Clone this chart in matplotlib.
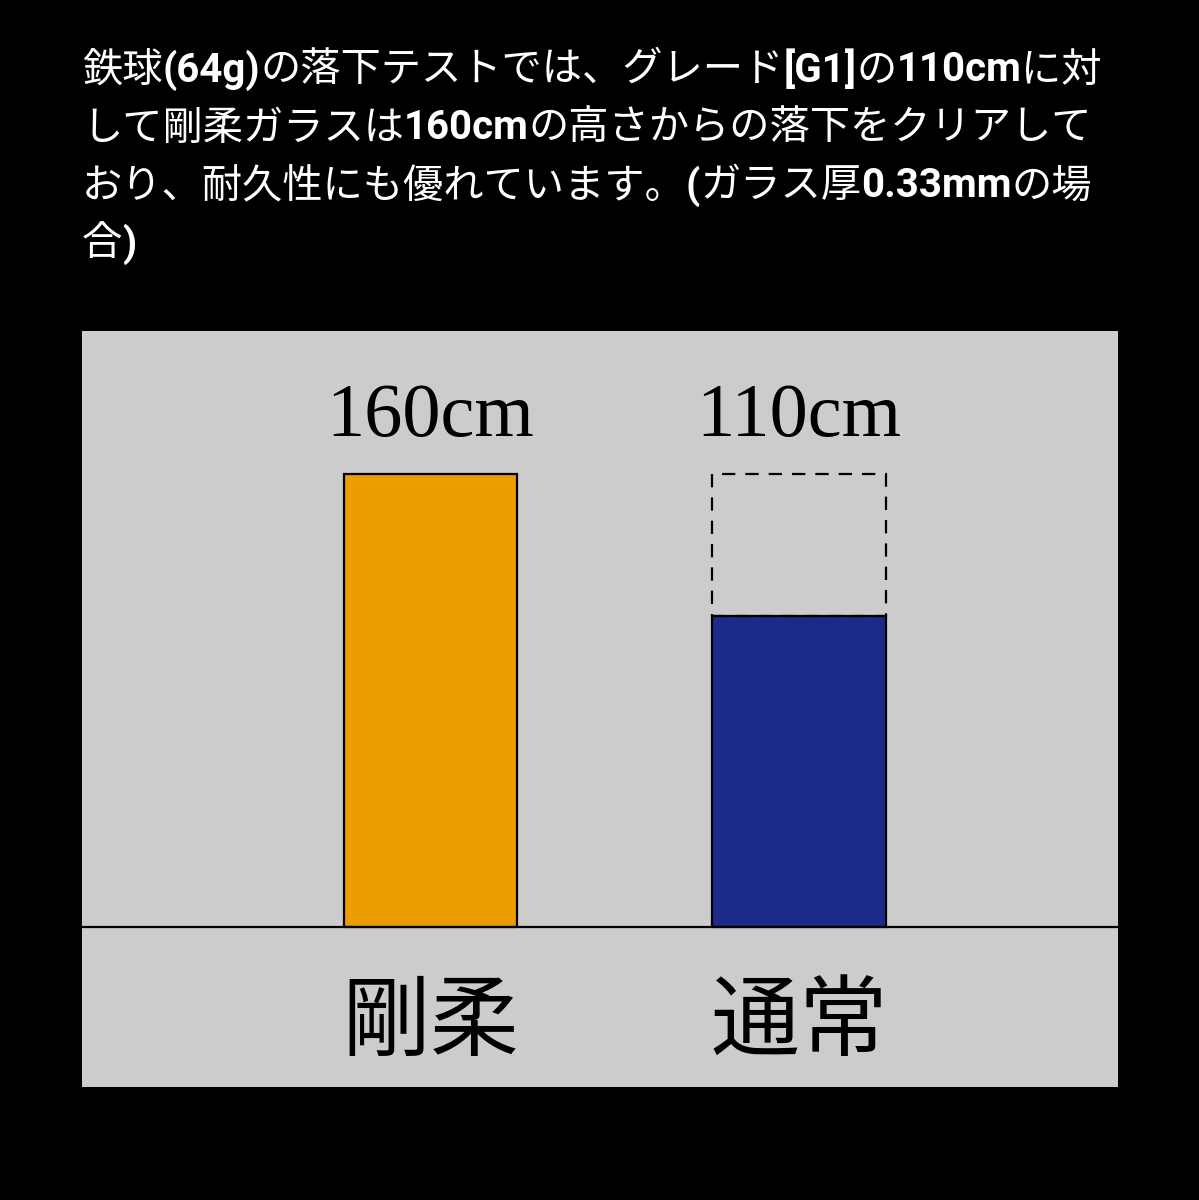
import re
import matplotlib
matplotlib.use("Agg")
import matplotlib.pyplot as plt

# data
categories = ["剛柔", "通常"]
heights = [160, 110]
labels = ["160cm", "110cm"]
colors = ["#EC9D00", "#1C2B8A"]
ref_height = 160  # dashed outline on the "通常" bar

caption = [
    "鉄球(64g)の落下テストでは、グレード[G1]の110cmに対",
    "して剛柔ガラスは160cmの高さからの落下をクリアして",
    "おり、耐久性にも優れています。(ガラス厚0.33mmの場",
    "合)",
]

W, H = 1199, 1200
fig = plt.figure(figsize=(W / 100, H / 100), dpi=100, facecolor="black")
renderer = fig.canvas.get_renderer()

# caption text: latin runs bold (Roboto), japanese runs regular
for i, line in enumerate(caption):
    xpix = 82
    ypix = 70 + i * 58
    for run in re.findall(r"[\x20-\x7e]+|[^\x20-\x7e]+", line):
        latin = run.isascii()
        t = fig.text(xpix / W, 1 - ypix / H, run, color="white",
                     fontsize=29, va="center", ha="left",
                     fontweight="bold" if latin else "normal",
                     family=["Roboto", "Noto Sans CJK JP"] if latin else ["Noto Sans CJK JP"])
        xpix += t.get_window_extent(renderer).width

# grey panel with the bars
ax = fig.add_axes([82 / W, 1 - 1087 / H, 1036 / W, 756 / H])
ax.set_facecolor("#CCCCCC")
x = list(range(len(categories)))
ax.bar(x, heights, width=0.47, color=colors, edgecolor="black", linewidth=1.6, zorder=2)
ax.bar(x[1], ref_height - heights[1], bottom=heights[1], width=0.47,
       fill=False, edgecolor="black", linewidth=1.6, linestyle=(0, (6, 4.5)), zorder=2)
ax.axhline(0, color="black", linewidth=1.6, zorder=3)

for xi, lab in zip(x, labels):
    ax.text(xi, 173.5, lab, ha="center", va="baseline",
            fontsize=55, family="Liberation Serif", color="black")
for xi, cat in zip(x, categories):
    ax.text(xi, -34, cat, ha="center", va="center",
            fontsize=64, family="Noto Sans CJK JP", color="black")

ax.set_xlim(-0.946, 1.866)
ax.set_ylim(-56.5, 210.5)
ax.set_xticks([])
ax.set_yticks([])
for s in ax.spines.values():
    s.set_visible(False)

fig.savefig("out.png", dpi=100, facecolor="black")
